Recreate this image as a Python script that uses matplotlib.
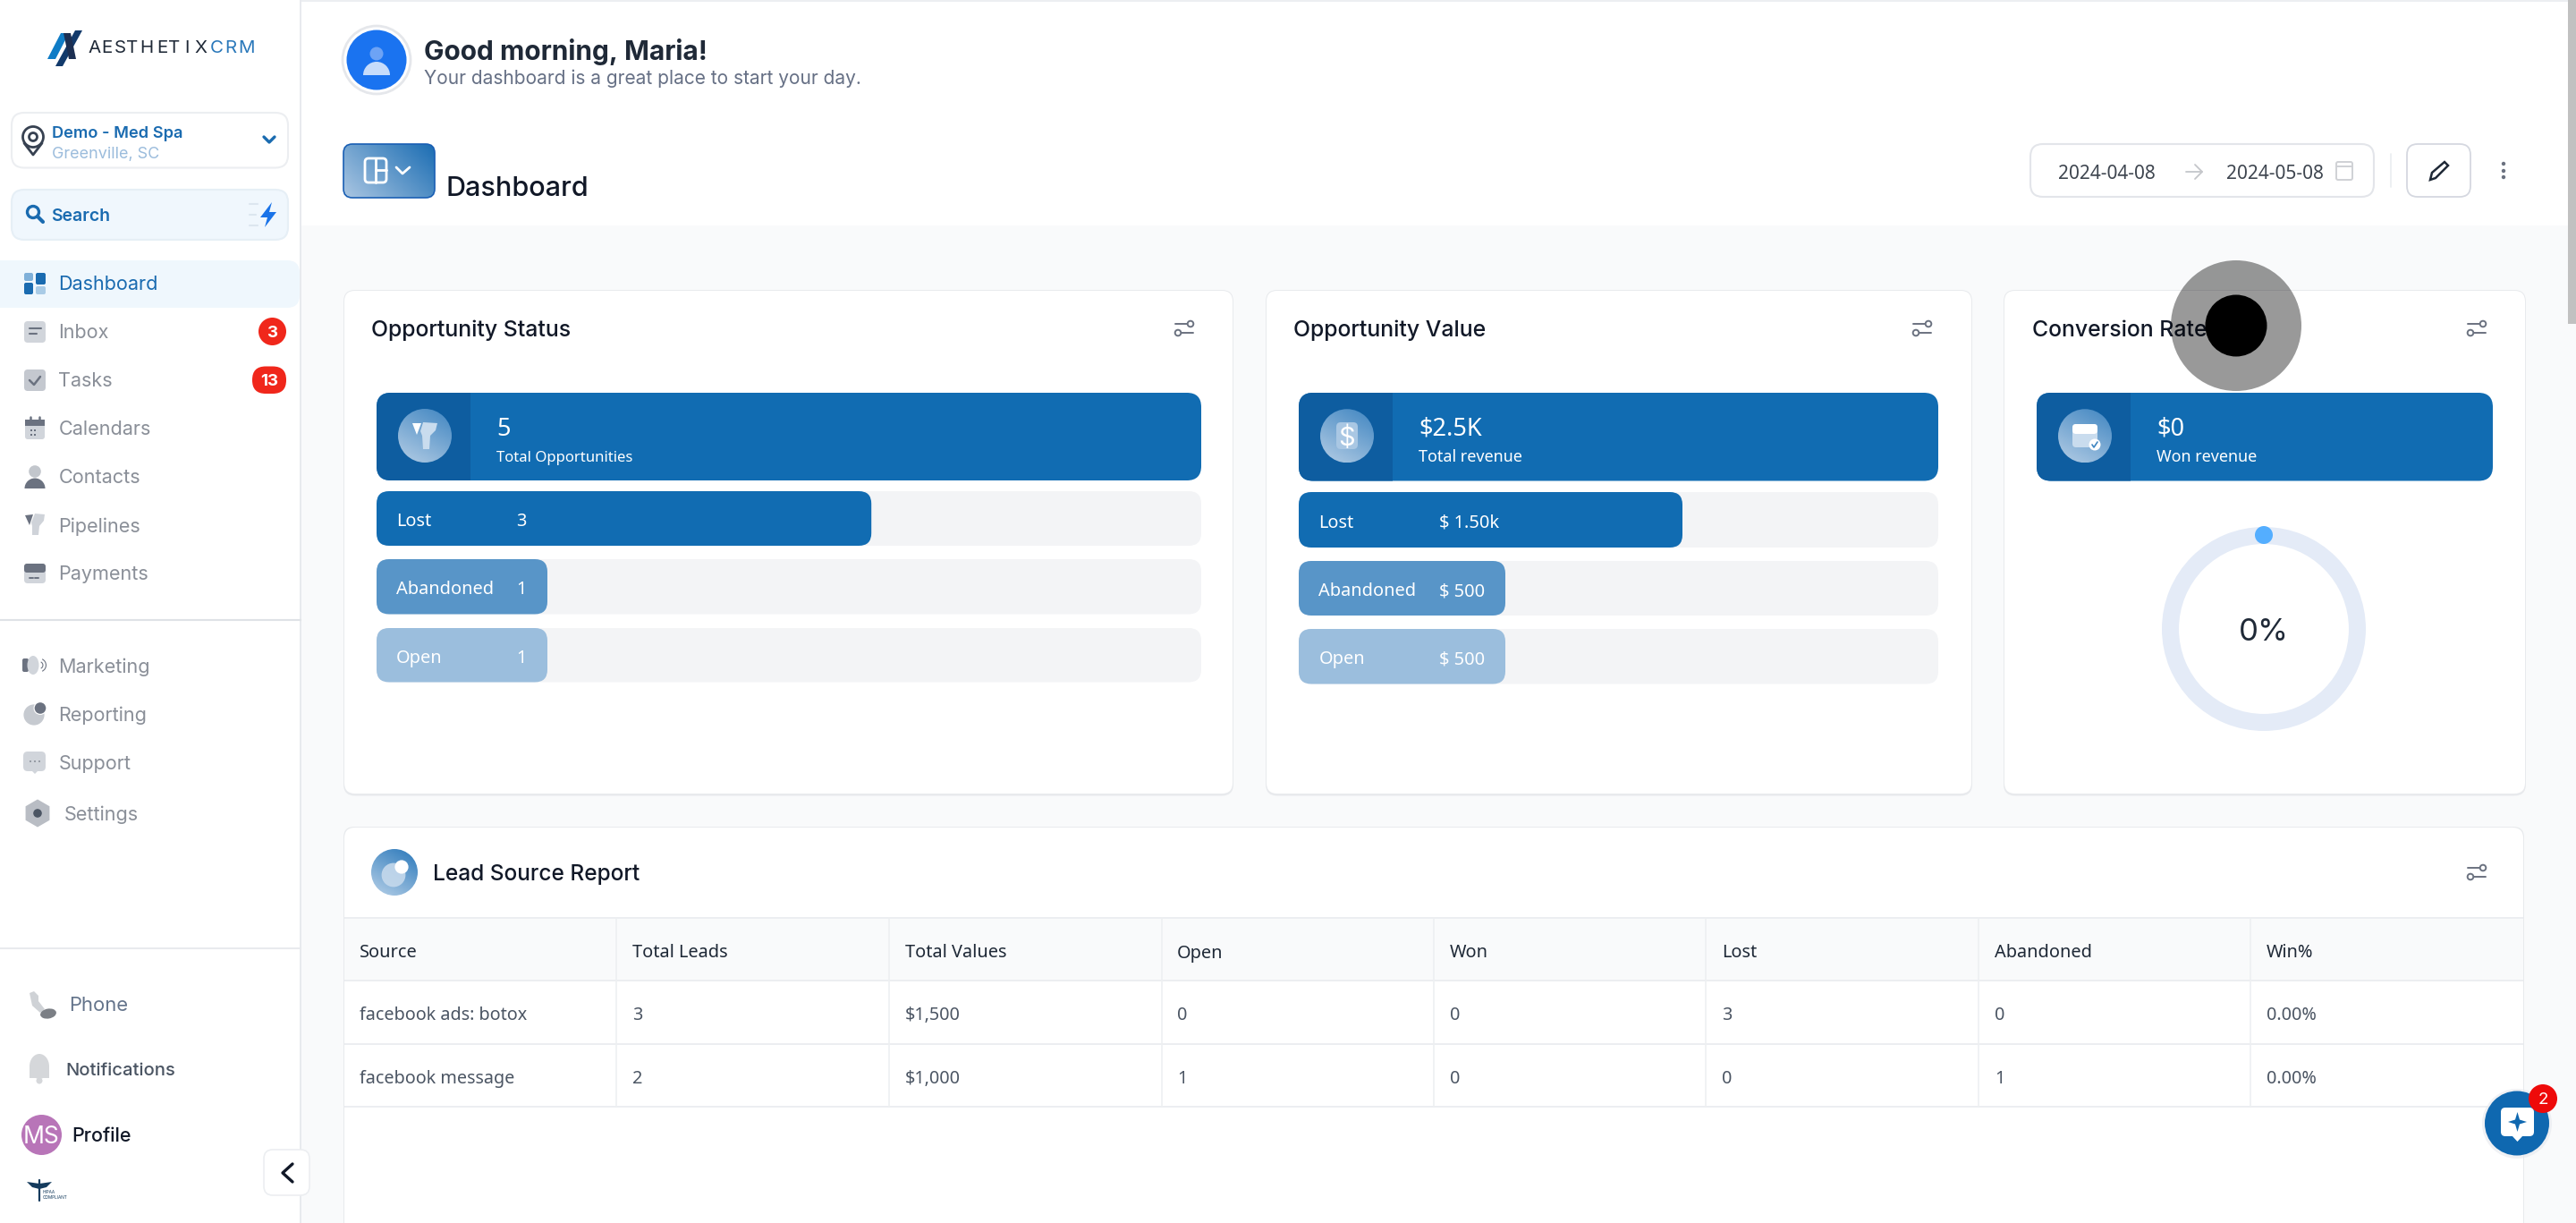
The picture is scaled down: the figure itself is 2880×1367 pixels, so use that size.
import numpy as np
import matplotlib
matplotlib.use("Agg")
import matplotlib.pyplot as plt
from matplotlib.patches import FancyBboxPatch, Circle, Polygon, Wedge, Ellipse, Rectangle, RegularPolygon
from matplotlib.font_manager import FontProperties
from matplotlib.textpath import TextPath

# ---------- data ----------
status_labels = ["Lost", "Abandoned", "Open"]
status_values = [3, 1, 1]
status_total = 5
value_labels = ["Lost", "Abandoned", "Open"]
value_amounts = [1500, 500, 500]
value_texts = ["$ 1.50k", "$ 500", "$ 500"]
value_total = 2500
won_revenue = 0
conversion_pct = [0, 100]
table_headers = ["Source", "Total Leads", "Total Values", "Open", "Won", "Lost", "Abandoned", "Win%"]
table_row_1 = ["facebook ads: botox", "3", "$1,500", "0", "0", "3", "0", "0.00%"]
table_row_2 = ["facebook message", "2", "$1,000", "1", "0", "0", "1", "0.00%"]
nav_top = ["Inbox", "Tasks", "Calendars", "Contacts", "Pipelines", "Payments"]
nav_mid = ["Marketing", "Reporting", "Support"]

# ---------- canvas ----------
W, H = 2880, 1367
fig = plt.figure(figsize=(W / 100, H / 100), dpi=100, facecolor="white")


def px_axes(x0, y0, x1, y1, z, xlim=None):
    a = fig.add_axes([x0 / W, 1 - y1 / H, (x1 - x0) / W, (y1 - y0) / H], zorder=z)
    a.set_xlim(*(xlim if xlim else (x0, x1)))
    a.set_ylim(y1, y0)
    a.axis("off")
    a.patch.set_alpha(0)
    return a


ax = px_axes(0, 0, W, H, 1)
top = px_axes(0, 0, W, H, 5)

INTER = "Inter"
NOTO = "Noto Sans"


def size_for(s, width, fam=INTER, weight="normal"):
    tp = TextPath((0, 0), s, size=100, prop=FontProperties(family=fam, weight=weight))
    b = tp.get_extents()
    return 100 * width / b.width * 72 / 100


def T(x, y, s, size, color="#111827", fam=INTER, weight="normal", ha="left", a=None, z=6):
    dx = -1 if ha == "left" else 0
    (a or top).text(x + dx, y, s, fontsize=size, color=color, family=fam, weight=weight,
                    ha=ha, va="center_baseline", zorder=z)


def box(x0, y0, x1, y1, r=12, fc="white", ec="none", lw=0, z=2, a=None, alpha=None):
    p = FancyBboxPatch((x0, y0), x1 - x0, y1 - y0, boxstyle=f"round,pad=0,rounding_size={r}",
                       fc=fc, ec=ec, lw=lw, zorder=z, alpha=alpha)
    (a or ax).add_patch(p)
    return p


def circ(x, y, r, fc, z=3, ec="none", lw=0, a=None, alpha=None):
    p = Circle((x, y), r, fc=fc, ec=ec, lw=lw, zorder=z, alpha=alpha)
    (a or ax).add_patch(p)
    return p


def line(xs, ys, c, lw=1.5, z=3, a=None, cap="round"):
    (a or ax).plot(xs, ys, color=c, lw=lw, zorder=z, solid_capstyle=cap, solid_joinstyle="round")


def poly(pts, fc, z=3, a=None, ec="none", lw=0):
    (a or ax).add_patch(Polygon(pts, closed=True, fc=fc, ec=ec, lw=lw, zorder=z))


def gradient(patch, extent, c0, c1, angle=45, z=3):
    n = 80
    yy, xx = np.mgrid[0:1:n * 1j, 0:1:n * 1j]
    th = np.radians(angle)
    t = xx * np.cos(th) + (1 - yy) * np.sin(th)
    t = (t - t.min()) / (t.max() - t.min())
    c0 = np.array(matplotlib.colors.to_rgb(c0))
    c1 = np.array(matplotlib.colors.to_rgb(c1))
    img = c0[None, None, :] * (1 - t[..., None]) + c1[None, None, :] * t[..., None]
    im = ax.imshow(img, extent=(extent[0], extent[1], extent[3], extent[2]), origin="upper",
                   aspect="auto", zorder=z, interpolation="bilinear")
    im.set_clip_path(patch)
    ax.set_xlim(0, W)
    ax.set_ylim(H, 0)


# ---------- backgrounds ----------
ax.add_patch(Rectangle((336, 252), W - 336, H - 252, fc="#f9fafb", ec="none", zorder=0))
ax.add_patch(Rectangle((336, 0), W - 336, 2, fc="#eceef1", ec="none", zorder=0))
ax.add_patch(Rectangle((335, 0), 2, H, fc="#e8eaee", ec="none", zorder=1))
ax.add_patch(Rectangle((2871, 0), 9, 362, fc="#c1c1c1", ec="none", zorder=1))
line([0, 336], [692.5, 692.5], "#dfe2e6", 1.5)
line([0, 336], [1059.5, 1059.5], "#e8eaee", 1.5)

# ---------- logo ----------
poly([(53, 66), (68, 37), (77, 37), (62, 66)], "#0f7cc6")
poly([(62, 74), (84, 34), (92, 34), (70, 74)], "#123a6b")
poly([(71, 37), (79, 37), (85, 66), (77, 66)], "#1c2f52")
for xc, ch in zip((105.8, 119.6, 134, 148, 164, 181, 195, 209, 224.5), "AESTHETIX"):
    T(xc, 52, ch, 14.8, "#1f2937", ha="center")
for xc, ch in zip((242, 257.6, 275), "CRM"):
    T(xc, 52, ch, 14.8, "#2a78ba", ha="center")

# ---------- location & search ----------
box(13, 126, 322, 187.5, r=14, fc="white", ec="#eceef1", lw=1.5)
circ(37, 153, 11.5, "white", ec="#374151", lw=2)
circ(37, 153, 4.5, "white", ec="#374151", lw=2)
line([27, 37, 47], [160, 173, 160], "#374151", 2)
T(59, 148, "Demo - Med Spa", size_for("Demo - Med Spa", 144, weight=600), "#1a6bb0", weight=600)
T(59, 170, "Greenville, SC", size_for("Greenville, SC", 118), "#9bbcdc")
line([295, 301, 307], [153, 159, 153], "#1a6bb0", 2.4)
box(13, 212, 322, 268, r=14, fc="#f0f7fd", ec="#e6eff6", lw=1.5)
circ(37, 237, 6.5, "none", ec="#1a6bb0", lw=2.4)
line([42, 48], [242, 248], "#1a6bb0", 3)
T(58, 240, "Search", size_for("Search", 64, weight=600), "#1a6bb0", weight=600)
poly([(304, 226), (291, 243), (299, 243), (296, 254), (309, 237), (301, 237)], "#1a73e8")
for yy, xx in ((228, 288), (240, 286), (252, 288)):
    line([279, xx], [yy, yy], "#dce6ef", 1.5)

# ---------- nav ----------
box(-20, 291, 335, 344, r=14, fc="#eff7fd")
sq = [(27, 305, 37, 314, "#7fb0d9"), (40, 305, 51, 318, "#1a6bb0"),
      (27, 316, 37, 329, "#1a6bb0"), (40, 320, 51, 329, "#a9cbe6")]
for x0, y0, x1, y1, c in sq:
    box(x0, y0, x1, y1, r=2, fc=c)
nav_size = size_for("Dashboard", 108)
T(66.5, 316.5, "Dashboard", nav_size, "#1a6bb0")
nav_ys = [370.5, 424.5, 478.5, 532.5, 586.5, 640.5]
for s, y in zip(nav_top, nav_ys):
    T(66.5, y, s, nav_size, "#8a8f98")
mid_ys = [743.5, 797.5, 851.5]
for s, y in zip(nav_mid, mid_ys):
    T(66.5, y, s, nav_size, "#8a8f98")
T(72.5, 908.5, "Settings", nav_size, "#8a8f98")

# inbox
box(27, 359, 51, 383, r=4, fc="#d1d5db")
line([33, 46], [367, 367], "#6b7280", 1.5)
line([33, 41], [373, 373], "#6b7280", 1.5)
# tasks
box(27, 413, 51, 437, r=4, fc="#c4c8cf")
line([33, 38, 45], [425, 430, 421], "#6b7280", 1.8)
# calendar
box(28, 469, 50, 491, r=3, fc="#d1d5db")
ax.add_patch(Rectangle((28, 469), 22, 7, fc="#6b7280", zorder=3))
for xx in (34, 44):
    line([xx, xx], [466, 471], "#6b7280", 1.8)
for xx in (35, 39):
    for yy in (481, 486):
        ax.add_patch(Rectangle((xx - .8, yy - .8), 1.8, 1.8, fc="#6b7280", zorder=4))
# contacts
circ(39, 527, 6.8, "#c2c6cc")
ax.add_patch(Wedge((39, 546), 11.5, 180, 360, fc="#6b7280", zorder=3))
# pipelines
poly([(28, 576), (37, 575), (33, 587)], "#6b7280")
poly([(39, 574), (50, 575), (49, 582), (44, 588), (43, 598), (36, 598), (36, 588), (35, 584)], "#cfd3d9")
# payments
box(27, 631, 51, 652, r=4, fc="#d1d5db")
box(27, 630, 51, 640, r=3, fc="#6b7280", z=3)
line([33, 37], [646, 646], "#6b7280", 1.4)
line([39, 43], [646, 646], "#6b7280", 1.4)
# marketing
box(25, 736, 32, 751, r=2, fc="#6b7280")
ax.add_patch(Ellipse((37, 743.5), 13, 21, fc="#d1d5db", zorder=3))
for rr in (4.5, 8):
    ax.add_patch(Wedge((44, 743.5), rr, -65, 65, width=1.1, fc="#6b7280", zorder=3))
# reporting
ax.add_patch(Wedge((38, 799), 11.6, 0, 360, fc="#c6cad0", zorder=3))
circ(45, 791.5, 7.5, "white", z=3.1)
circ(45, 791.5, 6.3, "#6b7280", z=3.2)
# support
box(26, 840, 51, 862, r=5, fc="#d1d5db")
poly([(34, 860), (44, 860), (39, 865)], "#d1d5db")
for xx in (34, 39, 44):
    circ(xx, 851, 1, "#8a8f98", z=4)
# settings
ax.add_patch(RegularPolygon((42, 909), 6, radius=15.5, fc="#b9bdc4", ec="none", zorder=3))
circ(42, 909, 4.8, "#4b5563", z=4)
# badges
circ(304.5, 370.5, 15.5, "#f0271b")
T(304.5, 370.5, "3", 13.5, "white", weight="bold", ha="center")
box(282, 409.5, 320, 440, r=15, fc="#f0271b")
T(301, 424.8, "13", 13.5, "white", weight="bold", ha="center")

# bottom nav
T(78, 1122.5, "Phone", size_for("Phone", 63), "#64748b")
poly([(33, 1110), (38, 1108), (43, 1113), (43, 1119), (50, 1128), (45, 1132), (36, 1124)], "#cfd2d6")
ax.add_patch(Ellipse((54, 1133), 18, 11, angle=-10, fc="#7b7f85", zorder=3))
T(74, 1194.5, "Notifications", size_for("Notifications", 120, weight=500), "#4b5563", weight=500)
ax.add_patch(Ellipse((44, 1192), 22, 28, fc="#d5d7da", zorder=3))
ax.add_patch(Rectangle((33, 1192), 22, 13, fc="#d5d7da", zorder=3))
circ(44, 1208, 3.5, "#d5d7da")
circ(46.5, 1268.5, 22.5, "#b875b8")
T(46.5, 1268.5, "MS", 19, "white", ha="center")
T(81.5, 1267.5, "Profile", size_for("Profile", 64, weight=500), "#111827", weight=500)
box(295, 1285, 346, 1336, r=10, fc="white", ec="#eceef1", lw=1.2, z=4)
line([327, 316, 327], [1301, 1311, 1321], "#111827", 2.4, z=5)
# compliance badge
poly([(30, 1321), (44, 1323), (58, 1321), (52, 1327), (44, 1329), (36, 1327)], "#143b5d")
line([44, 44], [1319, 1342], "#143b5d", 1.6)
T(49, 1332, "HIPAA", 3.4, "#143b5d")
T(49, 1337.5, "COMPLIANT", 3.4, "#143b5d")

# ---------- header ----------
circ(421, 67, 38, "white", ec="#e5e7eb", lw=2)
circ(421, 67, 33.5, "#1a73f0")
ax.add_patch(Ellipse((421, 60), 15, 15, fc="#6da3f5", zorder=4))
ax.add_patch(Wedge((421, 84), 15, 180, 360, fc="#c6dcfb", zorder=4))
T(475, 55, "Good morning, Maria!", size_for("Good morning, Maria!", 313, weight="bold"), "#1f2937", weight="bold")
T(475, 86, "Your dashboard is a great place to start your day.", size_for("Your dashboard is a great place to start your day.", 487), "#667085")
box(384, 161, 486, 221, r=10, fc="none", ec="#1a5fb4", lw=1.2, z=3.5)
clip = box(384, 161, 486, 221, r=10, fc="none", z=2.5)
gradient(clip, (384, 486, 161, 221), "#aac6e2", "#1b6db3", 30)
box(408, 177, 432, 204, r=4, fc="none", ec="white", lw=2, z=4)
line([420, 420], [177, 204], "white", 2, z=4)
line([420, 432], [190, 190], "white", 2, z=4)
line([443, 450, 458], [187, 194, 187], "white", 2, z=4)
T(499.5, 208, "Dashboard", size_for("Dashboard", 155, weight=500), "#111827", weight=500)

# date controls
box(2270, 161, 2654, 220, r=14, fc="white", ec="#e3e5ea", lw=1.5)
date_size = size_for("2024-04-08", 107, NOTO)
T(2302, 192, "2024-04-08", date_size, "#3f4650", fam=NOTO)
T(2490.5, 192, "2024-05-08", date_size, "#3f4650", fam=NOTO)
line([2444, 2462], [192, 192], "#c4c6ca", 1.3)
line([2454, 2462, 2454], [184, 192, 200], "#c4c6ca", 1.3)
box(2612, 181, 2630, 201, r=2, fc="none", ec="#cfd1d5", lw=1.4)
line([2612, 2630], [186, 186], "#cfd1d5", 1.4)
line([2672.5, 2672.5], [172, 209], "#eceef1", 1.3)
box(2691, 161, 2762, 220, r=12, fc="white", ec="#d5d8e0", lw=1.3)
poly([(2717, 201), (2719, 193), (2733, 181), (2737, 185), (2723, 199)], "white", ec="#1f2937", lw=1.8, z=4)
for yy in (183, 191, 198):
    circ(2799, yy, 2.2, "#6b7280")


# ---------- cards ----------
def card(x0, y0, x1, y1):
    box(x0 - 1, y0 - 1, x1 + 1, y1 + 2.5, r=13, fc="#e8eaed", z=1.5)
    box(x0, y0, x1, y1, r=12, fc="white", z=1.6)


def filter_icon(x, y):
    line([x - 10, x + 3], [y - 5, y - 5], "#6b7280", 1.4)
    line([x - 3, x + 10], [y + 5, y + 5], "#6b7280", 1.4)
    circ(x + 7, y - 5, 3.3, "white", ec="#6b7280", lw=1.4)
    circ(x - 7, y + 5, 3.3, "white", ec="#6b7280", lw=1.4)


card(385, 325, 1378, 887)
card(1416, 325, 2204, 887)
card(2241, 325, 2823, 887)
title_size = size_for("Opportunity Status", 221, weight=500)
T(416, 367, "Opportunity Status", title_size, "#111827", weight=500)
T(1447, 367, "Opportunity Value", title_size, "#111827", weight=500)
T(2272.5, 367, "Conversion Rate", title_size, "#111827", weight=500)
for xi in (1324, 2149, 2769):
    filter_icon(xi, 367)


def head_bar(x0, x1, dark_end, y0, y1, cx, big, small, small_w):
    base = box(x0, y0, x1, y1, r=16, fc="#116cb2")
    dark = Rectangle((x0, y0), dark_end - x0, y1 - y0, fc="#0e5da0", ec="none", zorder=2.1)
    ax.add_patch(dark)
    dark.set_clip_path(base)
    c = circ(cx, (y0 + y1) / 2 - 1, 30, "none", z=2.3)
    gradient(c, (cx - 30, cx + 30, y0 + 18, y0 + 78), "#b4cde5", "#3f85c1", 60, z=2.4)
    T(dark_end + 30, y0 + 37.5, big, size_for("$2.5K", 69, NOTO, "bold"), "white", fam=NOTO, weight="bold")
    T(dark_end + 30, y0 + 70.5, small, size_for(small, small_w, NOTO), "white", fam=NOTO)


head_bar(421, 1343, 526, 439, 537, 475, str(status_total), "Total Opportunities", 152)
head_bar(1452, 2167, 1557, 439, 537.5, 1506, "$2.5K", "Total revenue", 115)
head_bar(2277, 2787, 2382, 439, 537.5, 2331, f"${won_revenue}", "Won revenue", 111)
# head icons
poly([(461, 473), (471, 473), (466, 486)], "white", z=4)
poly([(473, 472), (489, 473), (487, 481), (481, 487), (480, 502), (473, 502), (472, 487), (470, 482)], "#c9dcee", z=4)
box(1494, 472, 1518, 502, r=5, fc="#a9c7e3", z=4)
T(1506, 487, "$", 21, "white", ha="center")
box(2317, 474, 2345, 500, r=4, fc="#c9dcee", z=4)
box(2317, 474, 2345, 485, r=4, fc="white", z=4.1)
circ(2342, 497, 6.5, "white", z=4.2)
line([2339, 2341, 2345], [497, 500, 494], "#3f85c1", 1.2, z=4.3)

bar_colors = ["#116cb2", "#5895c8", "#9bbedd"]
TRACK = "#f3f4f6"


def progress(x0, x1, total, rows, values, min_w, labels, texts, label_x, value_x):
    a = px_axes(x0, 500, x1, 800, 3, xlim=(0, total))
    ppu = (x1 - x0) / total
    rad = 14
    for (y0, y1), v, c in zip(rows, values, bar_colors):
        a.add_patch(FancyBboxPatch((0, y0), total, y1 - y0,
                                   boxstyle=f"round,pad=0,rounding_size={rad / ppu}",
                                   mutation_aspect=ppu, fc=TRACK, ec="none", zorder=1))
        width = max(v, min_w / ppu)
        a.add_patch(FancyBboxPatch((0, y0), width, y1 - y0,
                                   boxstyle=f"round,pad=0,rounding_size={rad / ppu}",
                                   mutation_aspect=ppu, fc=c, ec="none", zorder=2))
    size = size_for("Abandoned", 107, NOTO)
    for (y0, y1), lab, tx in zip(rows, labels, texts):
        ym = (y0 + y1) / 2 + 1
        T(label_x, ym, lab, size, "white", fam=NOTO)
        T(value_x, ym, tx, size, "white", fam=NOTO)


progress(421, 1343, status_total, [(549, 610), (625, 686.5), (702, 762.5)], status_values, 191,
         status_labels, [str(v) for v in status_values], 444, 578.5)
progress(1452, 2167, value_total, [(550, 612), (627, 688), (703, 764.5)], value_amounts, 231,
         value_labels, value_texts, 1475.5, 1610)

# donut
da = px_axes(2531 - 115, 703 - 115, 2531 + 115, 703 + 115, 3)
da.pie(conversion_pct, radius=1.0, startangle=90, counterclock=False, colors=["#54aeff", "#e4ebf7"],
       wedgeprops=dict(width=0.167, linewidth=0), frame=True)
da.set_xlim(-115 / 114, 115 / 114)
da.set_ylim(-115 / 114, 115 / 114)
da.set_aspect("auto")
da.axis("off")
circ(2531, 598, 10, "#54aeff", z=6, a=top)
T(2531, 703, f"{conversion_pct[0]}%", size_for("0%", 50), "#1f2937", ha="center")

# overlay cursor highlight
circ(2500, 364, 73, "black", z=8, a=top, alpha=0.4)
circ(2500, 364, 34.5, "black", z=9, a=top)

# ---------- lead source ----------
box(384, 924, 2822, H + 40, r=12, fc="#e8eaed", z=1.4)
box(385, 925, 2821, H + 40, r=12, fc="white", z=1.6)
ic = circ(441, 975, 26, "none", z=2)
gradient(ic, (415, 467, 949, 1001), "#b6d0e8", "#2a78ba", 60, z=2.1)
circ(440, 978, 13.4, "#c5d9ec", z=3, alpha=.9)
circ(449, 969, 7.6, "white", z=3.5)
T(485, 975, "Lead Source Report", size_for("Lead Source Report", 229, weight=500), "#111827", weight=500)
filter_icon(2769, 975)

col_lines = [689, 993.5, 1298.5, 1603, 1907, 2212, 2516]
col_text = [403, 708, 1012.5, 1317, 1622, 1926, 2231, 2535]
ax.add_patch(Rectangle((385, 1026), 2436, 70, fc="#f9fafb", ec="none", zorder=2))
for yy in (1026, 1096, 1167, 1237):
    line([385, 2821], [yy, yy], "#eceef1", 1.4, cap="butt")
for xx in col_lines:
    line([xx, xx], [1026, 1237], "#eef0f2", 1.2, cap="butt")
head_size = size_for("Total Values", 112, NOTO)
cell_size = size_for("facebook ads: botox", 187, NOTO)
for xx, s in zip(col_text, table_headers):
    T(xx, 1063, s, head_size, "#1f2937", fam=NOTO)
for xx, s in zip(col_text, table_row_1):
    T(xx, 1132.5, s, cell_size, "#4b5563", fam=NOTO)
for xx, s in zip(col_text, table_row_2):
    T(xx, 1203.5, s, cell_size, "#4b5563", fam=NOTO)

# chat widget
circ(2814, 1256, 39, "#e6e9ee", z=6, a=top, alpha=.6)
circ(2814, 1255.5, 36, "#0f68b0", z=7, a=top)
box(2796, 1238, 2833, 1270, r=5, fc="white", z=8, a=top)
poly([(2808, 1269), (2821, 1269), (2814.5, 1276)], "white", z=8, a=top)
poly([(2814.5, 1243), (2817, 1251.5), (2825, 1254), (2817, 1256.5), (2814.5, 1265), (2812, 1256.5), (2804, 1254), (2812, 1251.5)],
     "#0f68b0", z=9, a=top)
circ(2843, 1228, 16, "#ee0a0a", z=9, a=top)
T(2843, 1228, "2", 13.5, "white", ha="center", z=10)

fig.savefig("out.png", dpi=100, facecolor="white")
